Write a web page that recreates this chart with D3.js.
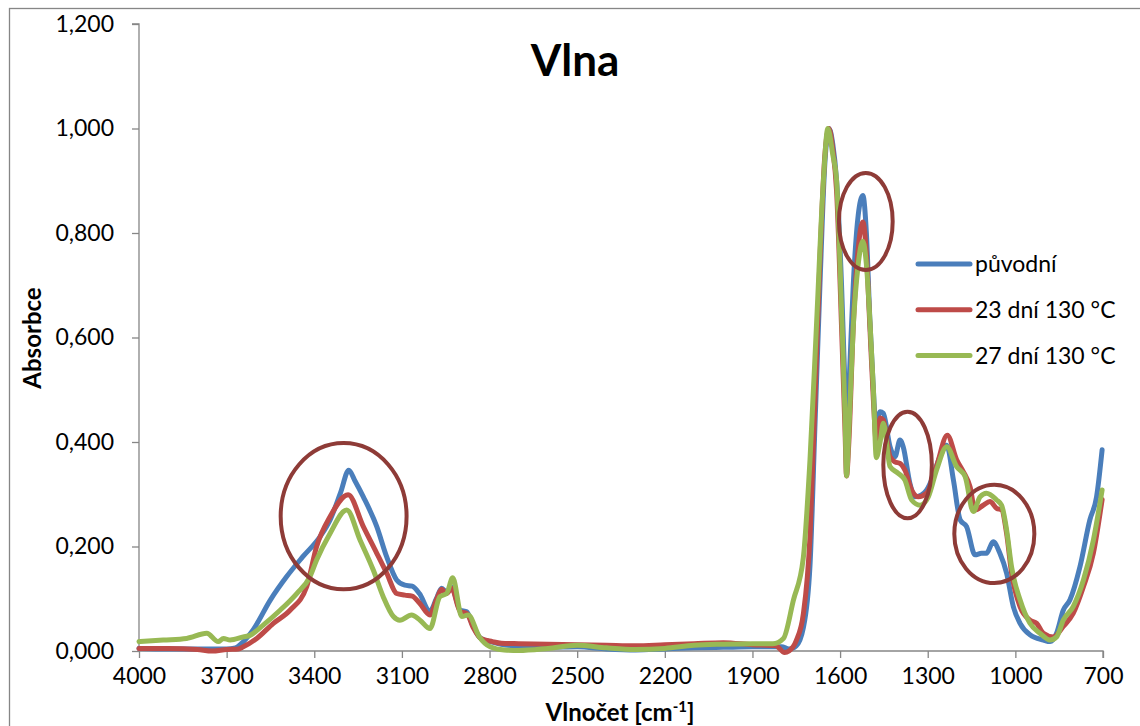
<!DOCTYPE html>
<html>
<head>
<meta charset="utf-8">
<script src="https://cdn.jsdelivr.net/npm/d3@7"></script>
<style>
  html, body { margin: 0; padding: 0; background: #fff; }
  svg { display: block; font-family: Lato, "Open Sans", sans-serif; }
</style>
</head>
<body>
<svg id="chart" width="1140" height="726"></svg>
<script>
// FTIR spectra of wool: wavenumber [cm-1] and absorbance
const seriesNames = ["původní", "23 dní 130 °C", "27 dní 130 °C"];

const puvodni = [
  [4000,0.005],[3900,0.004],[3800,0.004],[3700,0.004],[3670,0.006],[3650,0.014],[3610,0.040],
  [3550,0.098],[3495,0.142],[3440,0.180],[3380,0.219],[3345,0.252],[3310,0.303],[3282,0.346],
  [3260,0.325],[3232,0.295],[3186,0.238],[3152,0.180],[3118,0.136],[3090,0.126],[3065,0.124],
  [3040,0.110],[3004,0.076],[2982,0.100],[2964,0.120],[2947,0.113],[2930,0.122],[2900,0.078],
  [2878,0.075],[2856,0.047],[2830,0.024],[2790,0.017],[2760,0.013],[2700,0.009],[2600,0.007],
  [2500,0.008],[2400,0.004],[2300,0.002],[2200,0.004],[2100,0.006],[2000,0.007],[1900,0.008],
  [1800,0.008],[1775,0.004],[1750,0.010],[1726,0.044],[1703,0.164],[1686,0.432],[1669,0.700],
  [1652,0.935],[1638,1.000],[1625,0.970],[1612,0.900],[1595,0.700],[1583,0.500],[1578,0.412],
  [1570,0.500],[1555,0.700],[1538,0.834],[1522,0.872],[1510,0.800],[1498,0.633],[1486,0.500],
  [1478,0.430],[1463,0.458],[1452,0.455],[1429,0.391],[1412,0.372],[1395,0.404],[1384,0.391],
  [1361,0.321],[1344,0.295],[1321,0.299],[1304,0.308],[1287,0.327],[1258,0.372],[1235,0.394],
  [1212,0.327],[1189,0.251],[1167,0.238],[1138,0.184],[1116,0.187],[1099,0.187],[1076,0.209],
  [1053,0.187],[1030,0.149],[1007,0.085],[984,0.053],[950,0.031],[904,0.021],[881,0.018],
  [859,0.034],[836,0.078],[813,0.098],[779,0.161],[745,0.251],[722,0.295],[703,0.385]
];

const dni23 = [
  [4000,0.005],[3900,0.005],[3800,0.003],[3750,0.000],[3700,0.003],[3660,0.004],[3643,0.008],
  [3597,0.024],[3540,0.053],[3483,0.078],[3426,0.123],[3392,0.200],[3346,0.257],[3284,0.299],
  [3232,0.238],[3186,0.187],[3152,0.149],[3118,0.110],[3090,0.107],[3065,0.105],[3040,0.092],
  [3004,0.069],[2982,0.098],[2964,0.118],[2947,0.110],[2930,0.120],[2900,0.075],[2878,0.072],
  [2856,0.045],[2830,0.024],[2790,0.018],[2760,0.015],[2700,0.014],[2600,0.013],[2500,0.012],
  [2400,0.011],[2300,0.010],[2200,0.012],[2100,0.014],[2000,0.016],[1900,0.012],[1820,0.010],
  [1790,-0.003],[1775,0.000],[1750,0.020],[1726,0.070],[1703,0.220],[1686,0.480],[1669,0.750],
  [1652,0.950],[1638,1.000],[1625,0.960],[1612,0.880],[1595,0.620],[1583,0.420],[1578,0.335],
  [1570,0.400],[1555,0.620],[1538,0.770],[1522,0.821],[1510,0.760],[1498,0.620],[1486,0.480],
  [1476,0.400],[1463,0.446],[1452,0.442],[1429,0.372],[1412,0.362],[1395,0.359],[1378,0.346],
  [1355,0.308],[1332,0.295],[1304,0.302],[1270,0.353],[1233,0.413],[1201,0.366],[1178,0.343],
  [1155,0.314],[1138,0.270],[1110,0.279],[1087,0.286],[1064,0.273],[1047,0.270],[1030,0.225],
  [1013,0.149],[984,0.085],[950,0.059],[927,0.053],[904,0.034],[870,0.027],[836,0.047],
  [802,0.072],[767,0.123],[733,0.187],[703,0.290]
];

const dni27 = [
  [4000,0.018],[3917,0.021],[3837,0.024],[3768,0.034],[3729,0.018],[3711,0.024],[3688,0.021],
  [3643,0.027],[3620,0.030],[3574,0.050],[3517,0.078],[3460,0.110],[3415,0.142],[3392,0.174],
  [3346,0.225],[3289,0.270],[3243,0.212],[3198,0.155],[3164,0.104],[3129,0.066],[3107,0.059],
  [3067,0.069],[3038,0.059],[3004,0.043],[2970,0.104],[2947,0.110],[2926,0.140],[2895,0.066],
  [2873,0.069],[2835,0.027],[2798,0.008],[2750,0.002],[2700,0.001],[2600,0.005],[2500,0.011],
  [2400,0.006],[2300,0.003],[2200,0.005],[2100,0.011],[2000,0.013],[1900,0.014],[1830,0.014],
  [1794,0.024],[1760,0.097],[1726,0.178],[1703,0.366],[1680,0.633],[1657,0.901],[1642,1.000],
  [1625,0.950],[1612,0.900],[1595,0.650],[1583,0.450],[1578,0.335],[1570,0.420],[1555,0.620],
  [1538,0.740],[1522,0.784],[1510,0.740],[1498,0.633],[1486,0.500],[1476,0.370],[1463,0.400],
  [1452,0.436],[1429,0.353],[1401,0.340],[1378,0.327],[1355,0.289],[1326,0.279],[1298,0.295],
  [1270,0.346],[1235,0.391],[1201,0.353],[1172,0.334],[1144,0.267],[1121,0.295],[1099,0.302],
  [1064,0.289],[1047,0.279],[1030,0.232],[1013,0.161],[984,0.098],[950,0.053],[916,0.034],
  [881,0.021],[859,0.027],[836,0.059],[802,0.085],[767,0.136],[733,0.212],[703,0.308]
];

// axis ticks
const xTicks = [4000, 3700, 3400, 3100, 2800, 2500, 2200, 1900, 1600, 1300, 1000, 700];
const yTicks = [0, 0.2, 0.4, 0.6, 0.8, 1.0, 1.2];

// highlighted bands: [wavenumber from, wavenumber to, absorbance low, absorbance high]
const highlights = [
  [3515, 3084, 0.118, 0.398],
  [1604, 1420, 0.729, 0.915],
  [1452, 1286, 0.254, 0.458],
  [1209, 935, 0.130, 0.318]
];

const colors = ["#4A7EBB", "#BE4B48", "#98B954"];
const axisColor = "#868686";

const svg = d3.select("#chart");
const m = { left: 139, right: 1103, top: 24, bottom: 651 };

const x = d3.scaleLinear().domain([4000, 700]).range([m.left, m.right]);
const y = d3.scaleLinear().domain([0, 1.2]).range([m.bottom, m.top]);

// chart frame
svg.append("rect")
  .attr("x", 9.5).attr("y", 8.5).attr("width", 1160).attr("height", 760)
  .attr("fill", "#fff").attr("stroke", axisColor).attr("stroke-width", 1.3);

// y axis
const yAxis = d3.axisLeft(y).tickValues(yTicks).tickSize(7).tickPadding(18)
  .tickFormat(d => d.toFixed(3).replace(".", ","));
const gy = svg.append("g").attr("transform", `translate(${m.left},0)`).call(yAxis);
gy.select(".domain").attr("stroke", axisColor).attr("stroke-width", 1.3)
  .attr("d", `M${-7},${m.top}H0V${m.bottom}`);
gy.selectAll(".tick line").attr("stroke", axisColor).attr("stroke-width", 1.3);
gy.selectAll(".tick text").attr("font-size", 23).attr("fill", "#000")
  .attr("font-family", "Lato, sans-serif");

// x axis
const xAxis = d3.axisBottom(x).tickValues(xTicks).tickSize(7).tickPadding(10)
  .tickFormat(d3.format("d"));
const gx = svg.append("g").attr("transform", `translate(0,${m.bottom})`).call(xAxis);
gx.select(".domain").attr("stroke", axisColor).attr("stroke-width", 1.3)
  .attr("d", `M${m.left},0H${m.right}V7`);
gx.selectAll(".tick line").attr("stroke", axisColor).attr("stroke-width", 1.3);
gx.selectAll(".tick text").attr("font-size", 23).attr("fill", "#000")
  .attr("font-family", "Lato, sans-serif");

// spectra
const line = d3.line()
  .x(d => x(d[0])).y(d => y(d[1]))
  .curve(d3.curveMonotoneX);

[puvodni, dni23, dni27].forEach((s, i) => {
  svg.append("path")
    .datum(s)
    .attr("fill", "none")
    .attr("stroke", colors[i])
    .attr("stroke-width", 5)
    .attr("stroke-linejoin", "round")
    .attr("stroke-linecap", "round")
    .attr("d", line);
});

// highlight ellipses
svg.append("g").selectAll("ellipse")
  .data(highlights)
  .join("ellipse")
  .attr("cx", d => (x(d[0]) + x(d[1])) / 2)
  .attr("cy", d => (y(d[2]) + y(d[3])) / 2)
  .attr("rx", d => Math.abs(x(d[1]) - x(d[0])) / 2)
  .attr("ry", d => Math.abs(y(d[3]) - y(d[2])) / 2)
  .attr("fill", "none")
  .attr("stroke", "#8E3B37")
  .attr("stroke-width", 4);

// title
svg.append("text")
  .attr("x", 575).attr("y", 76)
  .attr("text-anchor", "middle")
  .attr("font-size", 44).attr("font-weight", "bold")
  .text("Vlna");

// axis titles
svg.append("text")
  .attr("transform", `translate(41,338) rotate(-90)`)
  .attr("text-anchor", "middle")
  .attr("font-size", 24).attr("font-weight", "bold")
  .text("Absorbce");

const xt = svg.append("text")
  .attr("x", 620).attr("y", 721)
  .attr("text-anchor", "middle")
  .attr("font-size", 24).attr("font-weight", "bold");
xt.append("tspan").text("Vlnočet [cm");
xt.append("tspan").attr("dy", -9).attr("font-size", 15).text("-1");
xt.append("tspan").attr("dy", 9).text("]");

// legend
const legend = svg.append("g");
seriesNames.forEach((name, i) => {
  const ly = 264 + i * 45.8;
  legend.append("line")
    .attr("x1", 918).attr("x2", 970).attr("y1", ly).attr("y2", ly)
    .attr("stroke", colors[i]).attr("stroke-width", 5).attr("stroke-linecap", "round");
  legend.append("text")
    .attr("x", 975).attr("y", ly).attr("dy", "0.35em")
    .attr("font-size", 23)
    .text(name);
});
</script>
</body>
</html>
